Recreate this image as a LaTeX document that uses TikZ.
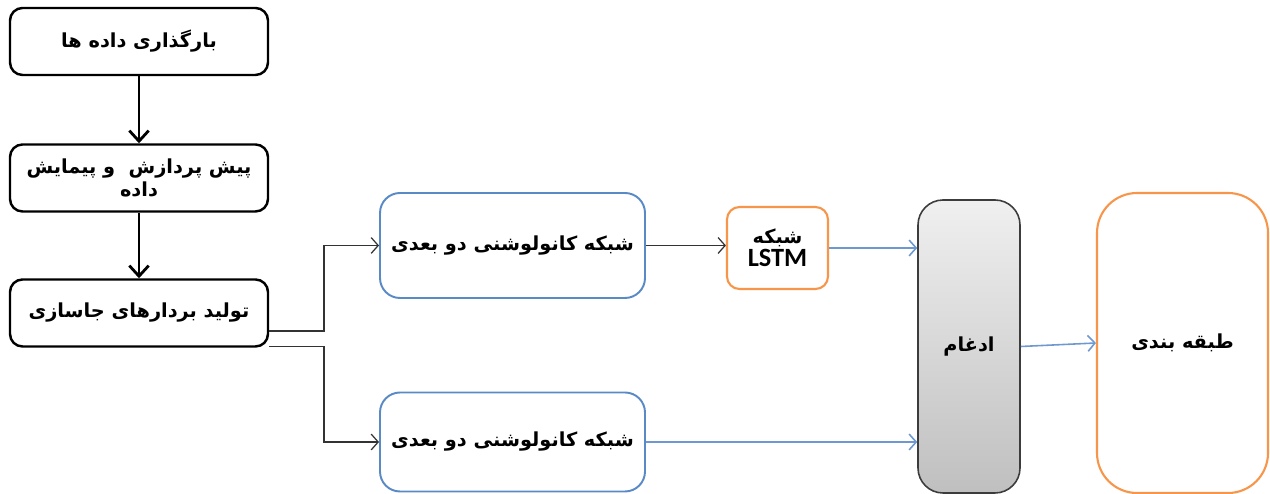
\documentclass[tikz,border=0pt]{standalone}
\usepackage{fontspec}
\usepackage{xcolor}
\usetikzlibrary{calc, arrows.meta}
\newfontfamily\persianfont[Script=Arabic]{DejaVu Sans}
\newfontfamily\latinfont{Carlito}
\TeXXeTstate=1
\newcommand{\fa}[1]{\beginR #1\endR}

\definecolor{boxblue}{HTML}{5A8AC6}
\definecolor{boxorange}{HTML}{F7964A}
\definecolor{lineblue}{HTML}{6E98D0}
\definecolor{mergeedge}{HTML}{3C3C3C}

\tikzset{
	stagebox/.style={draw=black, line width=1.4pt, rounded corners=0.25cm, minimum width=5.16cm, minimum height=1.34cm, inner sep=1pt, align=center, font=\persianfont\bfseries\fontsize{11}{15}\selectfont},
	netbox/.style={draw=boxblue, line width=1.1pt, rounded corners=0.4cm, minimum width=5.3cm, align=center, font=\persianfont\bfseries\fontsize{11}{15}\selectfont},
	lstmbox/.style={draw=boxorange, line width=1.2pt, rounded corners=0.25cm, minimum width=2.02cm, minimum height=1.64cm, align=center, font=\persianfont\bfseries\fontsize{11}{15}\selectfont},
	mergebox/.style={draw=mergeedge, line width=0.9pt, rounded corners=0.5cm, top color=gray!12, bottom color=gray!50, minimum width=2.04cm, minimum height=5.86cm, font=\persianfont\bfseries\fontsize{11}{15}\selectfont},
	classbox/.style={draw=boxorange, line width=1.2pt, rounded corners=0.8cm, minimum width=3.42cm, minimum height=6cm, font=\persianfont\bfseries\fontsize{11}{15}\selectfont},
	flow/.style={-{Straight Barb[length=6pt, width=11pt]}, line width=1.6pt, black},
	link/.style={-{Straight Barb[length=4pt, width=9pt]}, line width=0.7pt, black!80},
	bluelink/.style={-{Straight Barb[length=4pt, width=9pt]}, line width=0.9pt, lineblue}
}

\begin{document}
\begin{tikzpicture}
		\useasboundingbox (0,0) rectangle (25.4,9.88);
		
		%left column
		\node [stagebox] (load) at (2.78,9.05) {\fa{بارگذاری داده ها}};
		\node [stagebox] (prep) at (2.78,6.32) {\fa{پیش پردازش~~و پیمایش}\\[-2pt]\fa{داده}};
		\node [stagebox] (emb) at (2.78,3.62) {\fa{تولید بردارهای جاسازی}};
		
		\draw [flow] (load) -- (prep);
		\draw [flow] (prep) -- (emb);
		
		%networks
		\node [netbox, minimum height=2.1cm] (cnn top) at (10.25,4.97) {\fa{شبکه کانولوشنی دو بعدی}};
		\node [netbox, minimum height=1.98cm] (cnn bottom) at (10.25,1.04) {\fa{شبکه کانولوشنی دو بعدی}};
		\node [lstmbox] (lstm) at (15.55,4.92) {\fa{شبکه}\\[-2pt]{\latinfont\bfseries\fontsize{15}{17}\selectfont LSTM}};
		
		%merge and classification
		\node [mergebox] (merge) at (19.38,2.95) {\fa{ادغام}};
		\node [classbox] (class) at (23.65,3.02) {\fa{طبقه بندی}};
		
		%split from embedding box
		\coordinate (split up) at ($(emb.east)+(0,-0.36)$);
		\coordinate (split down) at ($(emb.south east)+(0,0.03)$);
		\coordinate (bend) at (6.48,0);
		
		\draw [link] (split up) -- (split up -| bend) |- (cnn top.west);
		\draw [link] (split down) -- (split down -| bend) |- (cnn bottom.west);
		
		\draw [link] (cnn top.east) -- (cnn top.east -| lstm.west);
		\draw [bluelink] (lstm.east) -- (lstm.east -| merge.west);
		\draw [bluelink] (cnn bottom.east) -- (cnn bottom.east -| merge.west);
		\draw [bluelink] (merge.east) -- (class.west);
	\end{tikzpicture}
\end{document}
